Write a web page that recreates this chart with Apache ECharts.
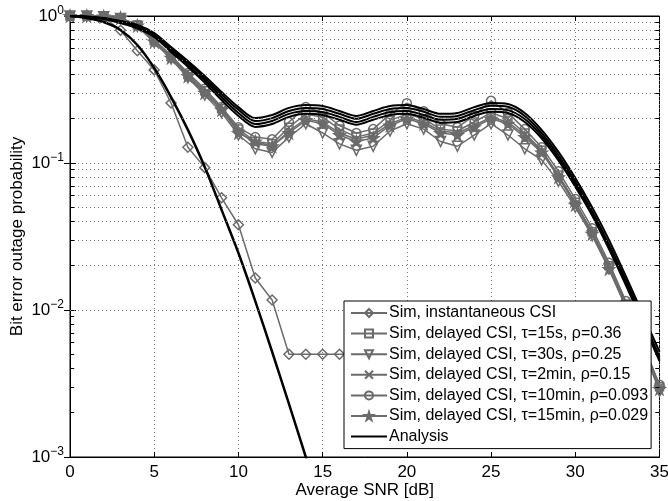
<!DOCTYPE html>
<html>
<head>
<meta charset="utf-8">
<script src="https://cdn.jsdelivr.net/npm/echarts@6/dist/echarts.min.js"></script>
<style>
html, body { margin: 0; padding: 0; background: #fff; }
#chart { width: 668px; height: 501px; }
</style>
</head>
<body>
<div id="chart"></div>
<script>
// SNR grid, dB
const snr = [0, 1, 2, 3, 4, 5, 6, 7, 8, 9, 10, 11, 12, 13, 14, 15, 16, 17,
  18, 19, 20, 21, 22, 23, 24, 25, 26, 27, 28, 29, 30, 31, 32, 33, 34, 35];

// simulations
const simInst = [1.0, 1.0, 0.985, 0.80, 0.58, 0.43, 0.256, 0.128, 0.093, 0.058, 0.038, 0.0165, 0.0117,
  0.005, 0.005, 0.005, 0.005, 0.005, 0.005, 0.005, 0.005, 0.005, 0.005, 0.005, 0.005, 0.005];
const sim15s = [1.0, 1.0, 0.99, 0.97, 0.87, 0.68, 0.53, 0.40, 0.31, 0.235, 0.17, 0.14, 0.135, 0.175, 0.215, 0.205,
  0.17, 0.15, 0.16, 0.195, 0.215, 0.2, 0.17, 0.165, 0.19, 0.22, 0.2, 0.16, 0.122, 0.083, 0.054, 0.034, 0.020, 0.011, 0.0058, 0.003];
const sim30s = [1.0, 1.0, 0.99, 0.96, 0.85, 0.66, 0.51, 0.38, 0.29, 0.22, 0.155, 0.125, 0.118, 0.15, 0.185, 0.16,
  0.135, 0.122, 0.13, 0.165, 0.185, 0.17, 0.14, 0.13, 0.155, 0.185, 0.155, 0.125, 0.105, 0.075, 0.05, 0.032, 0.019, 0.0105, 0.0055, 0.0028];
const sim2min = [1.0, 1.0, 0.99, 0.97, 0.86, 0.67, 0.52, 0.39, 0.30, 0.23, 0.165, 0.135, 0.13, 0.165, 0.2, 0.19,
  0.16, 0.145, 0.155, 0.185, 0.205, 0.19, 0.165, 0.16, 0.18, 0.205, 0.19, 0.155, 0.12, 0.082, 0.053, 0.034, 0.02, 0.011, 0.0058, 0.003];
const sim10min = [1.0, 1.0, 0.99, 0.97, 0.87, 0.69, 0.54, 0.41, 0.32, 0.24, 0.175, 0.15, 0.145, 0.19, 0.24, 0.22,
  0.18, 0.16, 0.17, 0.215, 0.255, 0.225, 0.185, 0.175, 0.21, 0.265, 0.22, 0.17, 0.128, 0.088, 0.057, 0.036, 0.021, 0.0115, 0.006, 0.0031];
const sim15min = [1.0, 1.0, 0.99, 0.97, 0.86, 0.67, 0.52, 0.39, 0.30, 0.23, 0.16, 0.14, 0.13, 0.16, 0.195, 0.185,
  0.155, 0.14, 0.148, 0.18, 0.2, 0.185, 0.16, 0.155, 0.175, 0.2, 0.185, 0.15, 0.118, 0.08, 0.052, 0.033, 0.019, 0.0105, 0.0056, 0.0029];

// analysis curves
const anaInst = [1.0, 0.969, 0.910, 0.803, 0.635, 0.443, 0.281, 0.168, 0.094, 0.048, 0.0244, 0.0115, 0.0052, 0.0023, 0.001, 0.00044];
const anaDelayed = [
  [1.0, 0.992, 0.969, 0.925, 0.869, 0.766, 0.615, 0.494, 0.391, 0.304, 0.240, 0.202, 0.212, 0.237, 0.248, 0.244, 0.226, 0.209,
    0.226, 0.244, 0.248, 0.233, 0.216, 0.219, 0.240, 0.256, 0.252, 0.219, 0.168, 0.119, 0.079, 0.050, 0.030, 0.017, 0.0094, 0.0052],
  [1.0, 0.99, 0.965, 0.915, 0.855, 0.75, 0.6, 0.48, 0.378, 0.292, 0.23, 0.193, 0.202, 0.226, 0.237, 0.233, 0.216, 0.2,
    0.216, 0.233, 0.237, 0.223, 0.206, 0.209, 0.229, 0.245, 0.241, 0.209, 0.16, 0.113, 0.075, 0.047, 0.028, 0.016, 0.0088, 0.0048],
  [1.0, 0.988, 0.96, 0.905, 0.84, 0.735, 0.585, 0.465, 0.365, 0.28, 0.219, 0.184, 0.193, 0.216, 0.226, 0.222, 0.206, 0.19,
    0.206, 0.222, 0.226, 0.212, 0.197, 0.2, 0.219, 0.233, 0.229, 0.199, 0.153, 0.108, 0.072, 0.045, 0.027, 0.0153, 0.0084, 0.0046],
  [1.0, 0.986, 0.955, 0.895, 0.825, 0.72, 0.57, 0.452, 0.352, 0.268, 0.209, 0.176, 0.184, 0.206, 0.216, 0.212, 0.197, 0.182,
    0.197, 0.212, 0.216, 0.203, 0.188, 0.19, 0.209, 0.223, 0.219, 0.19, 0.147, 0.104, 0.069, 0.044, 0.026, 0.0148, 0.0082, 0.0045]
];

// log minor grid
const minorTicks = [0.002, 0.003, 0.004, 0.005, 0.006, 0.007, 0.008, 0.009,
  0.02, 0.03, 0.04, 0.05, 0.06, 0.07, 0.08, 0.09,
  0.2, 0.3, 0.4, 0.5, 0.6, 0.7, 0.8, 0.9];

const names = [
  'Sim, instantaneous CSI',
  'Sim, delayed CSI, \u03c4=15s, \u03c1=0.36',
  'Sim, delayed CSI, \u03c4=30s, \u03c1=0.25',
  'Sim, delayed CSI, \u03c4=2min, \u03c1=0.15',
  'Sim, delayed CSI, \u03c4=10min, \u03c1=0.093',
  'Sim, delayed CSI, \u03c4=15min, \u03c1=0.029',
  'Analysis'
];

const gray = '#6b6b6b';
const font = 'Liberation Sans, Arial, sans-serif';

function pairs(vals) {
  return vals.map((v, i) => [snr[i], v]);
}

function sim(name, vals, symbol, size, fill, rotate) {
  return {
    name: name,
    type: 'line',
    data: pairs(vals),
    symbol: symbol,
    symbolSize: size,
    symbolRotate: rotate || 0,
    showAllSymbol: true,
    lineStyle: { color: gray, width: 1.5 },
    itemStyle: { color: fill, borderColor: gray, borderWidth: 1.5 },
    z: 3
  };
}

const starPath = 'path://M50,0L61,35L98,35L68,57L79,91L50,70L21,91L32,57L2,35L39,35Z';
const xPath = 'path://M0,0L10,10M10,0L0,10';

const series = [
  sim(names[0], simInst, 'diamond', 10, 'none'),
  sim(names[1], sim15s, 'rect', 8, 'none'),
  sim(names[2], sim30s, 'triangle', 10, 'none', 180),
  sim(names[3], sim2min, xPath, 7, 'none'),
  sim(names[4], sim10min, 'circle', 9, 'none'),
  sim(names[5], sim15min, starPath, 11, gray)
];

series.push({
  name: 'Analysis', type: 'line', data: pairs(anaInst), smooth: 0.3,
  showSymbol: false, symbol: 'none',
  lineStyle: { color: '#000', width: 2.5 }, itemStyle: { color: '#000' }, z: 4
});
anaDelayed.forEach(a => {
  series.push({
    name: 'Analysis', type: 'line', data: pairs(a), smooth: 0.3,
    showSymbol: false, symbol: 'none',
    lineStyle: { color: '#000', width: 2 }, itemStyle: { color: '#000' }, z: 4
  });
});

// minor grid lines and minor ticks on both y edges
const minorLines = [];
minorTicks.forEach(v => {
  minorLines.push({ yAxis: v, lineStyle: { type: [1, 3], color: '#777', width: 1 } });
  minorLines.push([{ coord: [0, v], lineStyle: { type: 'solid', color: '#000', width: 1 } }, { coord: [0.25, v] }]);
  minorLines.push([{ coord: [34.75, v], lineStyle: { type: 'solid', color: '#000', width: 1 } }, { coord: [35, v] }]);
});
series.push({
  name: '', type: 'line', data: [], z: 1,
  markLine: { silent: true, symbol: 'none', label: { show: false }, animation: false, data: minorLines }
});

const legendData = names.map(n => n === 'Analysis' ? { name: n, itemStyle: { opacity: 0 } } : n);

const chart = echarts.init(document.getElementById('chart'));
const option = {
  animation: false,
  backgroundColor: '#fff',
  textStyle: { fontFamily: font },
  grid: {
    left: 70, right: 8.5, top: 16, bottom: 44,
    outerBoundsMode: 'none', containLabel: false,
    show: true, borderColor: '#000', borderWidth: 1
  },
  legend: {
    data: legendData,
    orient: 'vertical',
    left: 344, top: 301,
    z: 10,
    backgroundColor: '#fff',
    borderColor: '#000', borderWidth: 1,
    padding: [4, 3, 4, 6],
    itemWidth: 36, itemHeight: 10, itemGap: 4.6,
    textStyle: { fontSize: 16, color: '#000', fontFamily: font, padding: [0, 0, 0, -3] },
    inactiveColor: '#000'
  },
  xAxis: [{
    type: 'value', min: 0, max: 35, interval: 5,
    name: 'Average SNR [dB]', nameLocation: 'middle', nameGap: 25, nameMoveOverlap: false,
    nameTextStyle: { fontSize: 17, color: '#000' },
    axisLine: { lineStyle: { color: '#000' } },
    axisTick: { inside: true, length: 5, lineStyle: { color: '#000' } },
    axisLabel: { fontSize: 17, color: '#000', margin: 7 },
    splitLine: { show: true, lineStyle: { type: [1, 3], color: '#777' } }
  }, {
    type: 'value', min: 0, max: 35, interval: 5, position: 'top',
    axisLine: { lineStyle: { color: '#000' } },
    axisTick: { inside: true, length: 5, lineStyle: { color: '#000' } },
    axisLabel: { show: false }, splitLine: { show: false }
  }],
  yAxis: [{
    type: 'log', logBase: 10, min: 0.001, max: 1,
    name: 'Bit error outage probability', nameLocation: 'middle', nameGap: 44, nameMoveOverlap: false,
    nameTextStyle: { fontSize: 17, color: '#000' },
    axisLine: { lineStyle: { color: '#000' } },
    axisTick: { inside: true, length: 6, lineStyle: { color: '#000' } },
    axisLabel: {
      margin: 6,
      formatter: v => {
        const e = Math.round(Math.log10(v));
        return '{b|10}{s|' + (e < 0 ? '\u2212' + (-e) : e) + '}';
      },
      rich: {
        b: { fontSize: 17, color: '#000', fontFamily: font },
        s: { fontSize: 12, color: '#000', fontFamily: font, verticalAlign: 'bottom', padding: [0, 0, 10, 0] }
      }
    },
    splitLine: { show: true, lineStyle: { type: [1, 3], color: '#777' } }
  }, {
    type: 'log', logBase: 10, min: 0.001, max: 1, position: 'right',
    axisLine: { lineStyle: { color: '#000' } },
    axisTick: { inside: true, length: 6, lineStyle: { color: '#000' } },
    axisLabel: { show: false }, splitLine: { show: false }
  }],
  series: series
};
chart.setOption(option);
</script>
</body>
</html>
